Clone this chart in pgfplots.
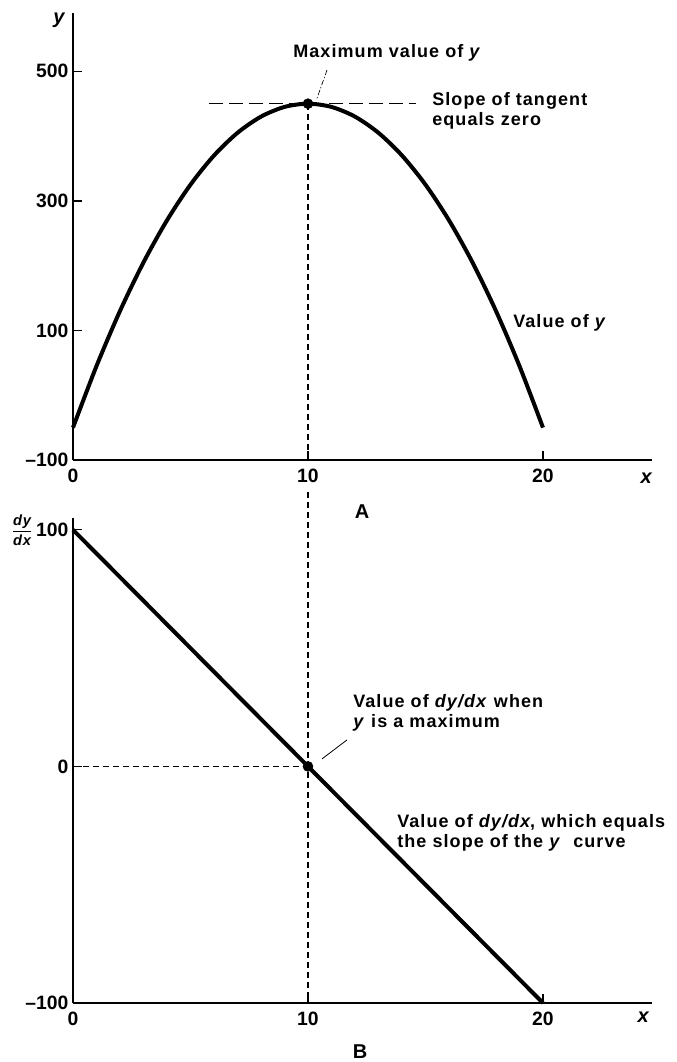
\documentclass[border=0pt]{standalone}
\usepackage{fontspec}
\setmainfont{Liberation Sans}
\usepackage{pgfplots}
\usepackage{pgfplotstable}
\pgfplotsset{compat=1.18}

% panel A: value of y
\pgfplotstableread{
x y
0 -50
1 45
2 130
3 205
4 270
5 325
6 370
7 405
8 430
9 445
10 450
11 445
12 430
13 405
14 370
15 325
16 270
17 205
18 130
19 45
20 -50
}\curveA

% panel B: dy/dx
\pgfplotstableread{
x d
0 100
20 -100
}\curveB

\pgfplotsset{
  panel/.style={
    scale only axis,
    width=434.25pt,
    xmin=0, xmax=24.64,
    axis lines=left,
    axis line style={-, line width=1.8pt, black},
    tick align=inside,
    major tick length=7pt,
    tick style={line width=1pt, black},
    xtick={0,10,20},
    xticklabels={0,10,20},
    ticklabel style={font=\bfseries\fontsize{14.5}{14.5}\selectfont},
    xticklabel style={yshift=-3pt},
    clip=false,
  },
}

\newcommand{\lab}{\bfseries\fontsize{13.5}{15}\selectfont\addfontfeature{LetterSpace=6}}

\begin{document}
\begin{tikzpicture}
\path[use as bounding box] (0,0) rectangle (507pt,796.5pt);

% ---------- Panel A ----------
\begin{axis}[panel,
  at={(54.75pt,451.5pt)}, anchor=south west,
  height=335.25pt,
  ymin=-100, ymax=590,
  ytick={-100,100,300,500},
  yticklabels={\textendash100,100,300,500},
]
\addplot[black, line width=3pt, smooth] table[x=x,y=y] {\curveA};
% tangent at the maximum
\addplot[black, line width=1pt, dash pattern=on 10pt off 5pt] coordinates {(5.8,450) (14.6,450)};
% vertical guide
\addplot[black, line width=1pt, dash pattern=on 4.5pt off 3pt] coordinates {(10,450) (10,-100)};
\addplot[only marks, mark=*, mark size=3.75pt, black] coordinates {(10,450)};
% leader
\draw[black, line width=0.5pt, dash pattern=on 4pt off 1.5pt on 1pt off 1.5pt] (axis cs:10.81,502) -- (axis cs:10.38,458);
\end{axis}

% ---------- Panel B ----------
\begin{axis}[panel,
  at={(54.75pt,44.25pt)}, anchor=south west,
  height=363.75pt,
  ymin=-100, ymax=105,
  ytick={-100,0,100},
  yticklabels={\textendash100,0,100},
]
\addplot[black, line width=3pt] table[x=x,y=d] {\curveB};
\addplot[black, line width=1pt, dash pattern=on 4.5pt off 3pt] coordinates {(0,0) (10,0)};
\addplot[black, line width=1pt, dash pattern=on 4.5pt off 3pt] coordinates {(10,116) (10,-100)};
\addplot[only marks, mark=*, mark size=3.75pt, black] coordinates {(10,0)};
\draw[black, line width=0.6pt] (axis cs:11.66,11.2) -- (axis cs:10.6,3.2);
\end{axis}

% ---------- Labels ----------
\begin{scope}[every node/.style={font=\lab, inner sep=0pt}]
\node at (45pt,781.5pt) {\fontsize{15}{15}\selectfont\textit{y}};
\node[anchor=west] at (219.75pt,756.75pt) {Maximum value of \textit{y}};
\node[anchor=west, align=left] at (324pt,713.25pt) {Slope of tangent\\equals zero};
\node[anchor=west] at (384.75pt,554.25pt) {Value of \textit{y}};
\node at (485.25pt,438pt) {\fontsize{15}{15}\selectfont\textit{x}};
\node at (271.5pt,412.5pt) {\fontsize{15}{15}\selectfont A};
\node at (16.5pt,399pt) {\fontsize{11}{11}\selectfont$\displaystyle\frac{\textit{dy}}{\textit{dx}}$};
\node[anchor=west, align=left] at (264.75pt,261.75pt) {Value of \textit{dy/dx} when\\\textit{y} is a maximum};
\node[anchor=west, align=left] at (297.75pt,171.75pt) {Value of \textit{dy/dx}, which equals\\the slope of the \textit{y}\ \ curve};
\node at (483pt,33.75pt) {\fontsize{15}{15}\selectfont\textit{x}};
\node at (270pt,7.5pt) {\fontsize{15}{15}\selectfont B};
\end{scope}
\end{tikzpicture}
\end{document}
